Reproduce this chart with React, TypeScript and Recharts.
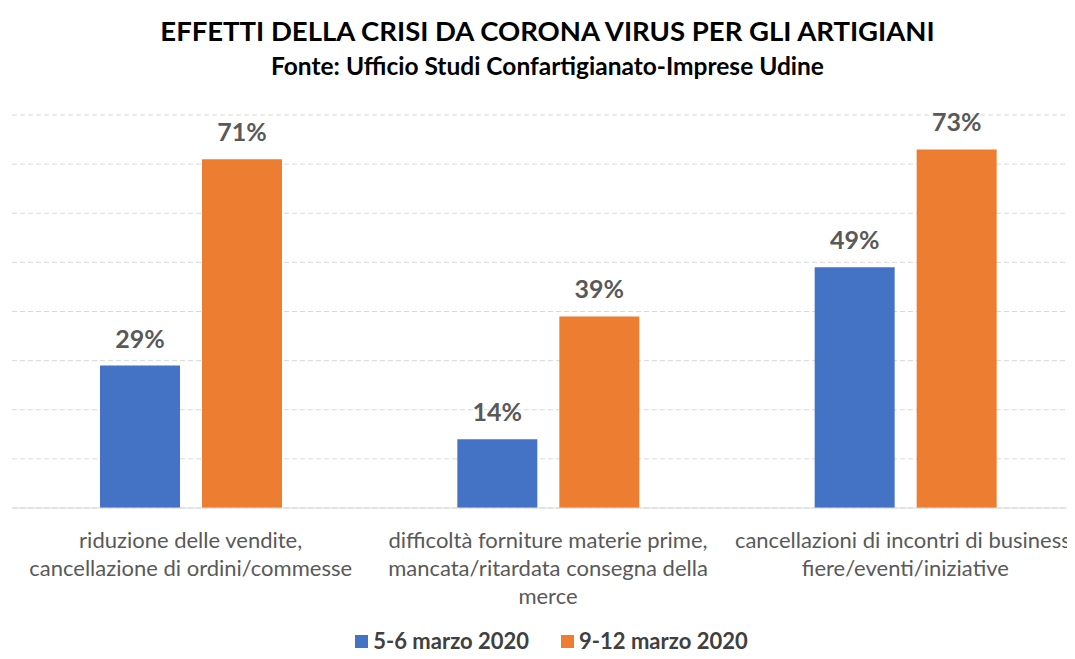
import React from 'react';
import { BarChart, Bar, XAxis, YAxis, CartesianGrid, LabelList } from 'recharts';

const categories = [
  ['riduzione delle vendite,', 'cancellazione di ordini/commesse'],
  ['difficoltà forniture materie prime,', 'mancata/ritardata consegna della', 'merce'],
  ['cancellazioni di incontri di business,', 'fiere/eventi/iniziative'],
];
const marchEarly = [29, 14, 49];
const marchLate = [71, 39, 73];
const seriesNames = ['5-6 marzo 2020', '9-12 marzo 2020'];
const yTicks = [0, 10, 20, 30, 40, 50, 60, 70, 80];

const BLUE = '#4472C4';
const ORANGE = '#ED7D31';
const TEXT = '#595959';
const FONT = 'Lato, "Open Sans", sans-serif';

const data = categories.map((lines, i) => ({
  name: lines.join(' '),
  early: marchEarly[i],
  late: marchLate[i],
}));

const CategoryTick = ({ x, y, index }: any) => {
  const lines = categories[index] || [];
  return (
    <g>
      {lines.map((line, i) => (
        <text
          key={i}
          x={x}
          y={y + 32 + i * 28}
          textAnchor="middle"
          fill={TEXT}
          fontFamily={FONT}
          fontSize={22}
        >
          {line}
        </text>
      ))}
    </g>
  );
};

const labelProps = {
  position: 'top' as const,
  offset: 18,
  formatter: (v: any) => `${v}%`,
  fill: TEXT,
  fontFamily: FONT,
  fontWeight: 700,
  fontSize: 25,
};

export default function App() {
  return (
    <div style={{ position: 'relative', width: 1075, height: 659, overflow: 'hidden', margin: -8, background: '#fff' }}>
      <div
        style={{
          position: 'absolute',
          top: 14,
          left: 0,
          width: 1095,
          textAlign: 'center',
          fontFamily: FONT,
          fontWeight: 700,
          fontSize: 27.5,
          color: '#000',
          whiteSpace: 'nowrap',
        }}
      >
        EFFETTI DELLA CRISI DA CORONA VIRUS PER GLI ARTIGIANI
      </div>
      <div
        style={{
          position: 'absolute',
          top: 51,
          left: 0,
          width: 1095,
          textAlign: 'center',
          fontFamily: FONT,
          fontWeight: 700,
          fontSize: 24.5,
          color: '#000',
          whiteSpace: 'nowrap',
        }}
      >
        Fonte: Ufficio Studi Confartigianato-Imprese Udine
      </div>
      <div style={{ position: 'absolute', top: 0, left: 0 }}>
        <BarChart
          width={1084}
          height={659}
          data={data}
          margin={{ top: 115, right: 0, left: 12, bottom: 0 }}
          barCategoryGap={87.5}
          barGap={22}
        >
          <CartesianGrid vertical={false} stroke="#D9D9D9" strokeDasharray="5 3" />
          <XAxis
            dataKey="name"
            axisLine={{ stroke: '#D9D9D9' }}
            tickLine={false}
            tick={<CategoryTick />}
            interval={0}
            height={151}
          />
          <YAxis hide domain={[0, 80]} ticks={yTicks} />
          <Bar dataKey="early" name={seriesNames[0]} fill={BLUE} barSize={80} isAnimationActive={false}>
            <LabelList dataKey="early" {...labelProps} />
          </Bar>
          <Bar dataKey="late" name={seriesNames[1]} fill={ORANGE} barSize={80} isAnimationActive={false}>
            <LabelList dataKey="late" {...labelProps} />
          </Bar>
        </BarChart>
      </div>
      <div
        style={{
          position: 'absolute',
          top: 630,
          left: 0,
          width: 1103,
          height: 22,
          lineHeight: '22px',
          display: 'flex',
          justifyContent: 'center',
          gap: 32,
          fontFamily: FONT,
          fontWeight: 700,
          fontSize: 22,
          color: '#404040',
          whiteSpace: 'nowrap',
        }}
      >
        {seriesNames.map((name, i) => (
          <div key={name} style={{ display: 'flex', alignItems: 'center', gap: 5 }}>
            <span style={{ width: 13, height: 13, background: i === 0 ? BLUE : ORANGE, display: 'inline-block' }} />
            <span>{name}</span>
          </div>
        ))}
      </div>
    </div>
  );
}
